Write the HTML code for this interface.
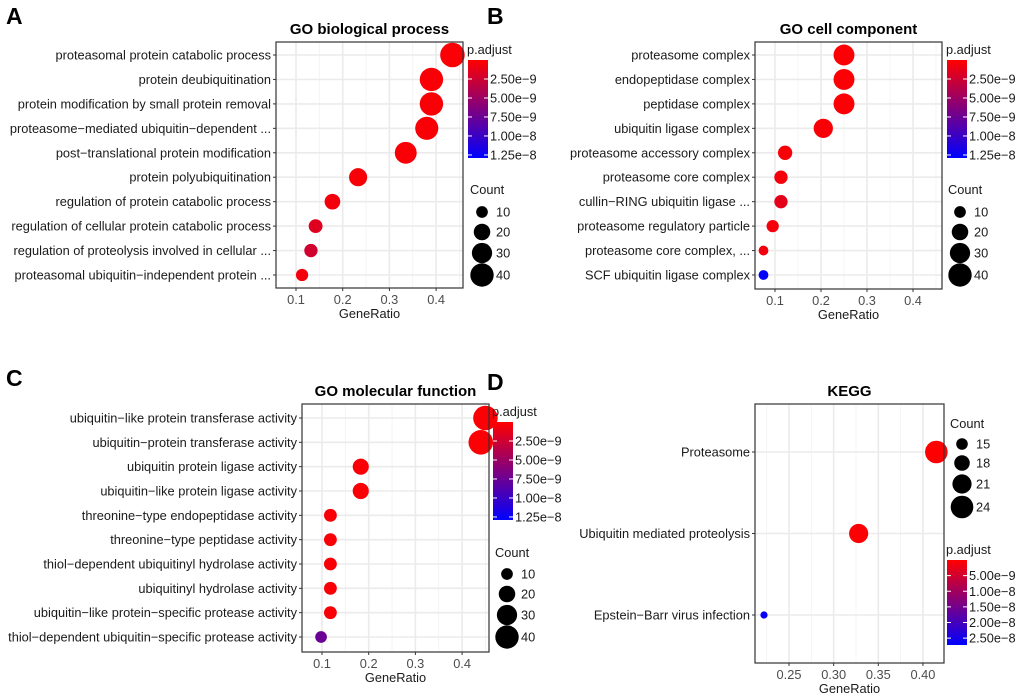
<!DOCTYPE html>
<html><head><meta charset="utf-8"><style>
body{margin:0;background:#fff;}
svg{display:block;font-family:"Liberation Sans",Arial,sans-serif;}
</style></head><body>
<svg id="fig" width="1020" height="696" viewBox="0 0 1020 696"></svg>
<script>
// ---- data ----
const catsA=["proteasomal protein catabolic process","protein deubiquitination","protein modification by small protein removal","proteasome\u2212mediated ubiquitin\u2212dependent ...","post\u2212translational protein modification","protein polyubiquitination","regulation of protein catabolic process","regulation of cellular protein catabolic process","regulation of proteolysis involved in cellular ...","proteasomal ubiquitin\u2212independent protein ..."];
const ratioA=[0.435,0.39,0.39,0.38,0.335,0.233,0.178,0.142,0.132,0.113];
const countA=[44,40,40,39,35,24,18,14,13,11];
const padjA=[0.2e-9,0.3e-9,0.3e-9,0.3e-9,0.3e-9,0.4e-9,0.6e-9,1.6e-9,2.4e-9,0.6e-9];
const catsB=["proteasome complex","endopeptidase complex","peptidase complex","ubiquitin ligase complex","proteasome accessory complex","proteasome core complex","cullin\u2212RING ubiquitin ligase ...","proteasome regulatory particle","proteasome core complex, ...","SCF ubiquitin ligase complex"];
const ratioB=[0.25,0.25,0.25,0.205,0.122,0.113,0.113,0.095,0.075,0.075];
const countB=[32,32,32,27,15,13,13,11,7,7];
const padjB=[0.2e-9,0.2e-9,0.2e-9,0.3e-9,0.4e-9,0.5e-9,1.3e-9,0.5e-9,0.6e-9,12.8e-9];
const catsC=["ubiquitin\u2212like protein transferase activity","ubiquitin\u2212protein transferase activity","ubiquitin protein ligase activity","ubiquitin\u2212like protein ligase activity","threonine\u2212type endopeptidase activity","threonine\u2212type peptidase activity","thiol\u2212dependent ubiquitinyl hydrolase activity","ubiquitinyl hydrolase activity","ubiquitin\u2212like protein\u2212specific protease activity","thiol\u2212dependent ubiquitin\u2212specific protease activity"];
const ratioC=[0.45,0.44,0.183,0.183,0.118,0.118,0.118,0.118,0.118,0.098];
const countC=[44,44,19,19,12,12,12,12,12,10];
const padjC=[0.2e-9,0.2e-9,0.3e-9,0.3e-9,0.3e-9,0.3e-9,0.3e-9,0.3e-9,0.3e-9,7.5e-9];
const catsD=["Proteasome","Ubiquitin mediated proteolysis","Epstein\u2212Barr virus infection"];
const ratioD=[0.415,0.328,0.222];
const countD=[24,21,12];
const padjD=[0.2e-9,0.3e-9,26.5e-9];
const ticksX1=[0.1,0.2,0.3,0.4];
const ticksXD=[0.25,0.30,0.35,0.40];
const ticksP1=[2.5e-9,5e-9,7.5e-9,1e-8,1.25e-8];
const ticksP1Lab=["2.50e\u22129","5.00e\u22129","7.50e\u22129","1.00e\u22128","1.25e\u22128"];
const ticksPD=[5e-9,1e-8,1.5e-8,2e-8,2.5e-8];
const ticksPDLab=["5.00e\u22129","1.00e\u22128","1.50e\u22128","2.00e\u22128","2.50e\u22128"];
const countLeg1=[10,20,30,40];
const countLegD=[15,18,21,24];

const NS="http://www.w3.org/2000/svg";
const svg=document.getElementById('fig');
const FS=12.8;
function mk(tag,attrs,parent,text){const e=document.createElementNS(NS,tag);for(const k in attrs)e.setAttribute(k,attrs[k]);if(text!==undefined)e.textContent=text;(parent||svg).appendChild(e);return e;}
function col(p,p0,p1){let t=(p-p0)/(p1-p0);t=Math.max(0,Math.min(1,t));const r=Math.round(255*(1-t)),b=Math.round(255*t);return `rgb(${r},0,${b})`;}
let gid=0;
function panel(o){
  const g=mk('g',{});
  
  
  const xs=v=>o.x0px+(v-o.x0v)*o.pxPer;
  const n=o.cats.length;
  const ys=i=>o.rowTop+i*(o.rowBot-o.rowTop)/(n-1);
  const minor=[];for(let i=0;i<o.ticks.length-1;i++)minor.push((o.ticks[i]+o.ticks[i+1])/2);
  minor.push(o.ticks[0]-(o.ticks[1]-o.ticks[0])/2);minor.push(o.ticks[o.ticks.length-1]+(o.ticks[1]-o.ticks[0])/2);
  minor.forEach(v=>{const x=xs(v);if(x>o.L&&x<o.R)mk('line',{x1:x,x2:x,y1:o.T,y2:o.B,stroke:'#f2f2f2','stroke-width':0.8},g);});
  o.ticks.forEach(v=>{mk('line',{x1:xs(v),x2:xs(v),y1:o.T,y2:o.B,stroke:'#ebebeb','stroke-width':1.6},g);});
  o.cats.forEach((c,i)=>{mk('line',{x1:o.L,x2:o.R,y1:ys(i),y2:ys(i),stroke:'#ebebeb','stroke-width':1.6},g);});
  o.cats.forEach((c,i)=>{
    const e=mk('circle',{cx:xs(o.ratio[i]),cy:ys(i),r:o.rad(o.count[i]),fill:col(o.padj[i],o.p0,o.p1)},g);
    
    
  });
  mk('rect',{x:o.L,y:o.T,width:o.R-o.L,height:o.B-o.T,fill:'none',stroke:'#333','stroke-width':1.2},g);
  o.cats.forEach((c,i)=>{
    mk('line',{x1:o.L-3,x2:o.L,y1:ys(i),y2:ys(i),stroke:'#333','stroke-width':1},g);
    const t=mk('text',{x:o.L-5,y:ys(i)+4.5,'text-anchor':'end','font-size':FS,fill:'#1a1a1a'},g,c);
    
    
  });
  o.ticks.forEach((v,i)=>{
    mk('line',{x1:xs(v),x2:xs(v),y1:o.B,y2:o.B+3,stroke:'#333','stroke-width':1},g);
    mk('text',{x:xs(v),y:o.B+16,'text-anchor':'middle','font-size':FS,fill:'#4d4d4d'},g,o.tickLab[i]);
  });
  const xt=mk('text',{x:(o.L+o.R)/2,y:o.B+30,'text-anchor':'middle','font-size':FS,fill:'#1a1a1a'},g,'GeneRatio');
  
  
  const tt=mk('text',{x:(o.L+o.R)/2,y:o.T-8,'text-anchor':'middle','font-size':15,'font-weight':'bold',fill:'#000'},g,o.title);
  
  
  const pl=mk('text',{x:o.letterX,y:o.letterY,'font-size':23,'font-weight':'bold',fill:'#000'},g,o.letter);
  
  
  const id='grad'+(gid++);
  const defs=mk('defs',{},g);const lg=mk('linearGradient',{id:id,x1:0,y1:0,x2:0,y2:1},defs);
  mk('stop',{offset:0,'stop-color':'#ff0000'},lg);mk('stop',{offset:1,'stop-color':'#0000ff'},lg);
  const cb=o.cb;
  mk('text',{x:cb.x-1,y:cb.top-6,'font-size':FS,fill:'#1a1a1a'},g,'p.adjust');
  const bar=mk('rect',{x:cb.x,y:cb.top,width:20,height:cb.bot-cb.top,fill:`url(#${id})`},g);
  
  
  const py=p=>cb.top+(p-o.p0)/(o.p1-o.p0)*(cb.bot-cb.top);
  o.pTicks.forEach((p,i)=>{const y=py(p);
    mk('line',{x1:cb.x,x2:cb.x+4,y1:y,y2:y,stroke:'#fff','stroke-width':1},g);
    mk('line',{x1:cb.x+16,x2:cb.x+20,y1:y,y2:y,stroke:'#fff','stroke-width':1},g);
    mk('text',{x:cb.x+22,y:y+4.5,'font-size':FS,fill:'#1a1a1a'},g,o.pLab[i]);});
  const cl=o.cl;
  mk('text',{x:cl.x-12,y:cl.titleY,'font-size':FS,fill:'#1a1a1a'},g,'Count');
  o.cLeg.forEach((c,i)=>{
    const e=mk('circle',{cx:cl.x,cy:cl.ys[i],r:o.rad(c),fill:'#000'},g);
    
    
    mk('text',{x:cl.x+14,y:cl.ys[i]+4.5,'font-size':FS,fill:'#1a1a1a'},g,String(c));
  });
}
const rad1=c=>1.85*Math.sqrt(c);
const radD=c=>5.8+(11.3-5.8)*(Math.sqrt(c)-Math.sqrt(15))/(Math.sqrt(24)-Math.sqrt(15));
const lab1=["0.1","0.2","0.3","0.4"], labD=["0.25","0.30","0.35","0.40"];
panel({name:'panel-a-go-biological-process',letter:'A',letterX:6,letterY:24,title:'GO biological process',cats:catsA,ratio:ratioA,count:countA,padj:padjA,
 L:276,R:463,T:42,B:288,rowTop:55,rowBot:275,x0v:0.1,x0px:296,pxPer:467,ticks:ticksX1,tickLab:lab1,rad:rad1,p0:0,p1:1.29e-8,
 cb:{x:468,top:60,bot:158},pTicks:ticksP1,pLab:ticksP1Lab,cl:{x:482,titleY:194,ys:[212,232,253,275]},cLeg:countLeg1});
panel({name:'panel-b-go-cell-component',letter:'B',letterX:487,letterY:24,title:'GO cell component',cats:catsB,ratio:ratioB,count:countB,padj:padjB,
 L:755,R:942,T:42,B:289,rowTop:55,rowBot:275,x0v:0.1,x0px:775,pxPer:460,ticks:ticksX1,tickLab:lab1,rad:rad1,p0:0,p1:1.29e-8,
 cb:{x:947,top:60,bot:158},pTicks:ticksP1,pLab:ticksP1Lab,cl:{x:960,titleY:194,ys:[212,232,253,275]},cLeg:countLeg1});
panel({name:'panel-c-go-molecular-function',letter:'C',letterX:6,letterY:386,title:'GO molecular function',cats:catsC,ratio:ratioC,count:countC,padj:padjC,
 L:302,R:489,T:404,B:652,rowTop:418,rowBot:637,x0v:0.1,x0px:322,pxPer:467,ticks:ticksX1,tickLab:lab1,rad:rad1,p0:0,p1:1.29e-8,
 cb:{x:493,top:422,bot:520},pTicks:ticksP1,pLab:ticksP1Lab,cl:{x:507,titleY:557,ys:[574,594,615,637]},cLeg:countLeg1});
panel({name:'panel-d-kegg',letter:'D',letterX:487,letterY:390,title:'KEGG',cats:catsD,ratio:ratioD,count:countD,padj:padjD,
 L:755,R:944,T:404,B:663,rowTop:452,rowBot:615,x0v:0.25,x0px:789,pxPer:893,ticks:ticksXD,tickLab:labD,rad:radD,p0:0,p1:2.72e-8,
 cb:{x:947,top:560,bot:645},pTicks:ticksPD,pLab:ticksPDLab,cl:{x:962,titleY:428,ys:[444,463,484,507]},cLeg:countLegD});
</script>
</body></html>
